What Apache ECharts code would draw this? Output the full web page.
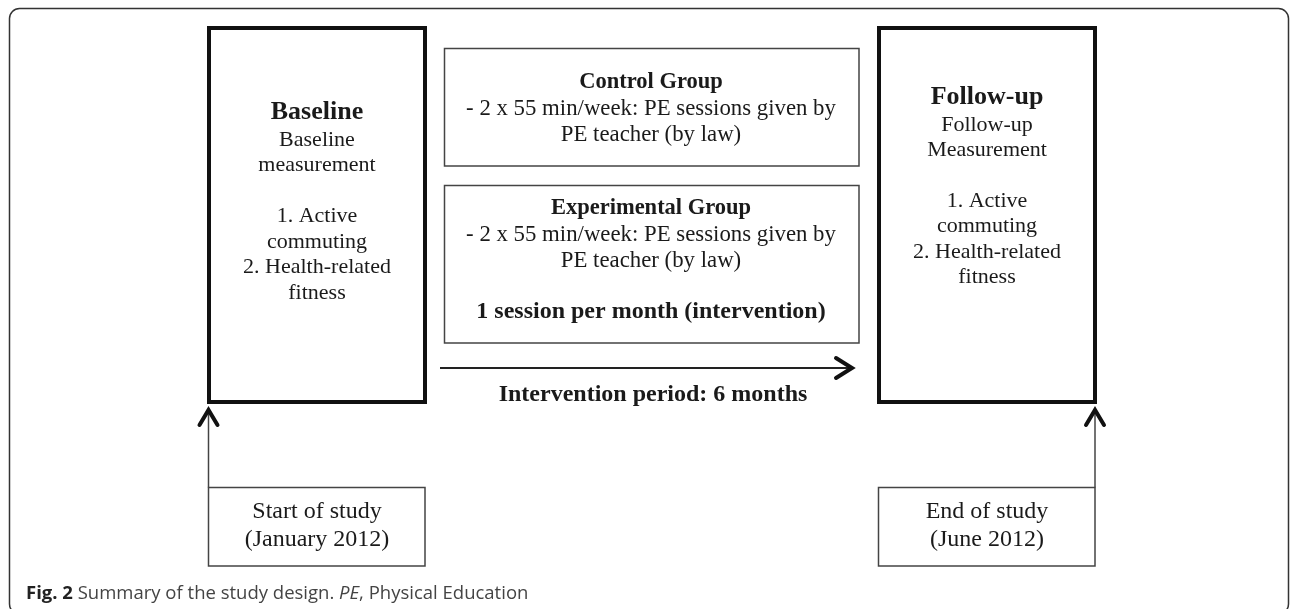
<!DOCTYPE html>
<html>
<head>
<meta charset="utf-8">
<script src="https://cdn.jsdelivr.net/npm/echarts@6/dist/echarts.min.js"></script>
<style>html,body{margin:0;padding:0;background:#fff}#c{width:1290px;height:609px}</style>
</head>
<body>
<div id="c"></div>
<script>
// ---- text content ----
const boxTitles = ['Baseline', 'Control Group', 'Experimental Group', 'Follow-up', '', ''];
const baselineLines = ['Baseline', 'measurement', '', '1. Active', 'commuting', '2. Health-related', 'fitness'];
const controlLines = ['- 2 x 55 min/week: PE sessions given by', 'PE teacher (by law)'];
const experimentalLines = ['- 2 x 55 min/week: PE sessions given by', 'PE teacher (by law)', '', '1 session per month (intervention)'];
const followUpLines = ['Follow-up', 'Measurement', '', '1. Active', 'commuting', '2. Health-related', 'fitness'];
const startLines = ['Start of study', '(January 2012)'];
const endLines = ['End of study', '(June 2012)'];
const periodLabel = 'Intervention period: 6 months';
const captionBold = 'Fig. 2';
const captionText = ' Summary of the study design. ';
const captionItalic = 'PE';
const captionTail = ', Physical Education';

// ---- layout (diagram units = pixels of the 1290x609 scene) ----
const layout = {
  frame: [9.5, 8.5, 1288.5, 614, 1.5, 10, '#333'],
  boxes: [
    [209, 28, 425, 402, 4, 0, '#111'],     // Baseline
    [444.5, 48.5, 859, 166, 1.5, 0, '#444'], // Control
    [444.5, 185.5, 859, 343, 1.5, 0, '#444'], // Experimental
    [879, 28, 1095, 402, 4, 0, '#111'],    // Follow-up
    [208.5, 487.5, 425, 566, 1.5, 0, '#444'], // Start
    [878.5, 487.5, 1095, 566, 1.5, 0, '#444']  // End
  ],
  arrows: [
    // x0, y0, x1, y1, shaftWidth, headLen, headHalf, color
    [440, 368, 852, 368, 2, 16, 10, '#222'],
    [208.5, 487.5, 208.5, 410, 1.5, 15, 9, '#444'],
    [1095, 487.5, 1095, 410, 1.5, 15, 9, '#444']
  ]
};

const SERIF = '"Liberation Serif", "Times New Roman", serif';

// text blocks: lines, centre x, first y, line step, font per line
const textBlocks = [
  { lines: [boxTitles[0]], x: 317, y: 112, step: 0, font: 'bold 26px ' + SERIF },
  { lines: baselineLines, x: 317, y: 140, step: 25.5, font: '22px ' + SERIF },
  { lines: [boxTitles[3]], x: 987, y: 97, step: 0, font: 'bold 26px ' + SERIF },
  { lines: followUpLines, x: 987, y: 125, step: 25.4, font: '22px ' + SERIF },
  { lines: [boxTitles[1]], x: 651, y: 82, step: 0, font: 'bold 22.5px ' + SERIF },
  { lines: controlLines, x: 651, y: 109, step: 26, font: '22.8px ' + SERIF },
  { lines: [boxTitles[2]], x: 651, y: 208, step: 0, font: 'bold 22.5px ' + SERIF },
  { lines: experimentalLines.slice(0, 2), x: 651, y: 235, step: 26, font: '22.8px ' + SERIF },
  { lines: [experimentalLines[3]], x: 651, y: 312, step: 0, font: 'bold 24px ' + SERIF },
  { lines: startLines, x: 317, y: 512, step: 28, font: '24px ' + SERIF },
  { lines: endLines, x: 987, y: 512, step: 28, font: '24px ' + SERIF },
  { lines: [periodLabel], x: 653, y: 395, step: 0, font: 'bold 24px ' + SERIF }
];

const textItems = [];
textBlocks.forEach(b => {
  b.lines.forEach((t, i) => {
    if (t) textItems.push({ value: [b.x, b.y + i * b.step], text: t, font: b.font });
  });
});

const rectData = [layout.frame].concat(layout.boxes);

const chart = echarts.init(document.getElementById('c'), null, { renderer: 'canvas' });
chart.setOption({
  animation: false,
  backgroundColor: '#fff',
  grid: { left: 0, right: 0, top: 0, bottom: 0 },
  xAxis: { type: 'value', min: 0, max: 1290, show: false },
  yAxis: { type: 'value', min: 0, max: 609, inverse: true, show: false },
  title: {
    left: 21, top: 579,
    text: '{b|' + captionBold + '}{n|' + captionText + '}{i|' + captionItalic + '}{n|' + captionTail + '}',
    textStyle: {
      fontWeight: 'normal',
      rich: {
        b: { fontFamily: '"Open Sans", sans-serif', fontWeight: 'bold', fontSize: 18.5, color: '#222' },
        n: { fontFamily: '"Open Sans", sans-serif', fontWeight: 'normal', fontSize: 18.5, color: '#444' },
        i: { fontFamily: '"Open Sans", sans-serif', fontWeight: 'normal', fontStyle: 'italic', fontSize: 18.5, color: '#444' }
      }
    }
  },
  series: [
    {
      type: 'custom', coordinateSystem: 'cartesian2d', silent: true,
      data: rectData,
      encode: { x: [0, 2], y: [1, 3] },
      renderItem: (params, api) => {
        const d = rectData[params.dataIndex];
        const p0 = api.coord([d[0], d[1]]);
        const p1 = api.coord([d[2], d[3]]);
        return {
          type: 'rect',
          shape: { x: p0[0], y: p0[1], width: p1[0] - p0[0], height: p1[1] - p0[1], r: d[5] },
          style: { fill: 'none', stroke: d[6], lineWidth: d[4] }
        };
      }
    },
    {
      type: 'custom', coordinateSystem: 'cartesian2d', silent: true,
      data: layout.arrows,
      encode: { x: [0, 2], y: [1, 3] },
      renderItem: (params, api) => {
        const a = layout.arrows[params.dataIndex];
        const p0 = api.coord([a[0], a[1]]);
        const p1 = api.coord([a[2], a[3]]);
        const dx = p1[0] - p0[0], dy = p1[1] - p0[1];
        const len = Math.sqrt(dx * dx + dy * dy);
        const ux = dx / len, uy = dy / len;
        const nx = -uy, ny = ux;
        const bx = p1[0] - ux * a[5], by = p1[1] - uy * a[5];
        return {
          type: 'group',
          children: [
            { type: 'line', shape: { x1: p0[0], y1: p0[1], x2: p1[0] - ux * 1.5, y2: p1[1] - uy * 1.5 },
              style: { stroke: a[7], lineWidth: a[4] } },
            { type: 'polyline', shape: { points: [[bx + nx * a[6], by + ny * a[6]], [p1[0], p1[1]], [bx - nx * a[6], by - ny * a[6]]] },
              style: { stroke: '#111', lineWidth: 4, fill: 'none', lineCap: 'round', lineJoin: 'miter' } }
          ]
        };
      }
    },
    {
      type: 'custom', coordinateSystem: 'cartesian2d', silent: true,
      data: textItems.map(t => t.value),
      encode: { x: 0, y: 1 },
      renderItem: (params, api) => {
        const t = textItems[params.dataIndex];
        const p = api.coord([api.value(0), api.value(1)]);
        return {
          type: 'text',
          x: p[0], y: p[1],
          style: { text: t.text, font: t.font, fill: '#1a1a1a', align: 'center', verticalAlign: 'middle' }
        };
      }
    }
  ]
});
</script>
</body>
</html>
